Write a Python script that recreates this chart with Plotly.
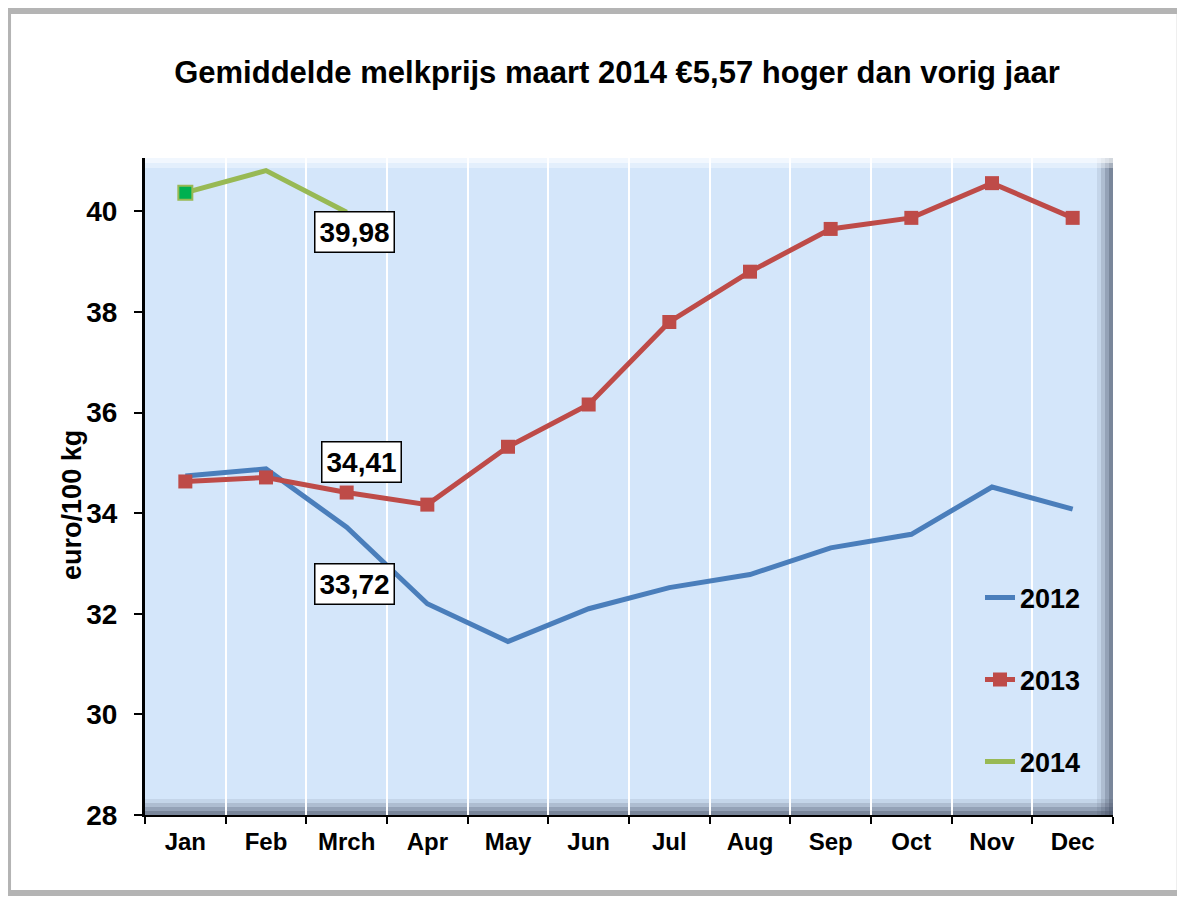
import plotly.graph_objects as go

months = ["Jan", "Feb", "Mrch", "Apr", "May", "Jun", "Jul", "Aug", "Sep", "Oct", "Nov", "Dec"]
prices_2012 = [34.74, 34.88, 33.72, 32.20, 31.45, 32.10, 32.52, 32.78, 33.31, 33.58, 34.52, 34.08]
prices_2013 = [34.63, 34.71, 34.41, 34.17, 35.32, 36.16, 37.80, 38.80, 39.65, 39.87, 40.56, 39.87]
prices_2014 = [40.37, 40.81, 39.98]
labels = [("Mrch", 39.98, "39,98", 8, -20), ("Mrch", 34.41, "34,41", 15, 31), ("Mrch", 33.72, "33,72", 8, -57)]

FONT = "Liberation Sans"
BLUE = "#4A7EBB"
RED = "#BE4B48"
GREEN = "#98B954"

fig = go.Figure()
fig.add_trace(go.Scatter(x=months, y=prices_2012, mode="lines", name="2012", showlegend=True,
                         line=dict(color=BLUE, width=5), legend="legend"))
fig.add_trace(go.Scatter(x=months, y=prices_2013, mode="lines+markers", name="2013", showlegend=True,
                         line=dict(color=RED, width=5),
                         marker=dict(symbol="square", size=14, color=RED), legend="legend2"))
fig.add_trace(go.Scatter(x=months[:3], y=prices_2014, mode="lines", name="2014", showlegend=True,
                         line=dict(color=GREEN, width=5), legend="legend3"))
fig.add_trace(go.Scatter(x=months[:1], y=prices_2014[:1], mode="markers", showlegend=False,
                         marker=dict(symbol="square", size=14, color="#00B050",
                                     line=dict(color=GREEN, width=2))))

for xm, yv, txt, dx, dy in labels:
    fig.add_annotation(x=xm, y=yv, text=txt, showarrow=False, xshift=dx, yshift=dy,
                       font=dict(family=FONT, size=28, color="black", weight="bold"),
                       bgcolor="white", bordercolor="black", borderwidth=1.5, borderpad=4)

# y-axis title
fig.add_annotation(xref="paper", yref="paper", x=-0.0754, y=0.472, text="euro/100 kg",
                   textangle=-90, showarrow=False, xanchor="center", yanchor="middle",
                   font=dict(family=FONT, size=27, color="black", weight="bold"))

shapes = []
# outer frame
shapes.append(dict(type="rect", xref="paper", yref="paper", x0=-0.1415, x1=1.069, y0=-0.1187, y1=1.2237,
                   line=dict(color="#B4B4B4", width=6), layer="below"))
# plot area bevel shading
for i, op in enumerate([0.10, 0.16, 0.22, 0.30]):
    h = (16 - i * 4) / 657.0
    shapes.append(dict(type="rect", xref="paper", yref="paper", x0=0, x1=1, y0=0, y1=h,
                       line=dict(width=0), fillcolor="rgba(60,70,90,%.2f)" % op, layer="below"))
for i, op in enumerate([0.10, 0.16, 0.22, 0.30]):
    w = (16 - i * 4) / 968.0
    shapes.append(dict(type="rect", xref="paper", yref="paper", x0=1 - w, x1=1, y0=0, y1=1,
                       line=dict(width=0), fillcolor="rgba(60,70,90,%.2f)" % op, layer="below"))
for i, op in enumerate([0.35, 0.5]):
    h = (10 - i * 5) / 657.0
    shapes.append(dict(type="rect", xref="paper", yref="paper", x0=0, x1=1, y0=1 - h, y1=1,
                       line=dict(width=0), fillcolor="rgba(255,255,255,%.2f)" % op, layer="below"))

legend_common = dict(xanchor="left", yanchor="middle", bgcolor="rgba(0,0,0,0)",
                     font=dict(family=FONT, size=27, color="black", weight="bold"))

fig.update_layout(
    width=1177, height=892,
    margin=dict(l=137, r=72, t=150, b=85),
    paper_bgcolor="white",
    plot_bgcolor="#D4E6FA",
    showlegend=True,
    title=dict(text="Gemiddelde melkprijs maart 2014 €5,57 hoger dan vorig jaar",
               x=0.5174, xanchor="center", y=0.9283, yanchor="middle",
               font=dict(family=FONT, size=31, color="black", weight="bold")),
    legend=dict(x=0.8626, y=0.3303, **legend_common),
    legend2=dict(x=0.8626, y=0.2055, **legend_common),
    legend3=dict(x=0.8626, y=0.0807, **legend_common),
    shapes=shapes,
    xaxis=dict(type="category", tickson="boundaries", showgrid=True, gridcolor="white", gridwidth=1.5,
               showline=True, linecolor="black", linewidth=2, ticks="outside", ticklen=7,
               tickcolor="black", tickwidth=2, ticklabelstandoff=4,
               tickfont=dict(family=FONT, size=24, color="black", weight="bold"),
               range=[-0.5, 11.5], zeroline=False),
    yaxis=dict(range=[28, 41.06], tickvals=[28, 30, 32, 34, 36, 38, 40], showgrid=False,
               showline=True, linecolor="black", linewidth=3, ticks="outside", ticklen=8,
               tickcolor="black", tickwidth=2, ticklabelstandoff=11,
               tickfont=dict(family=FONT, size=28, color="black", weight="bold"),
               zeroline=False),
)

fig.write_html("out.html")
